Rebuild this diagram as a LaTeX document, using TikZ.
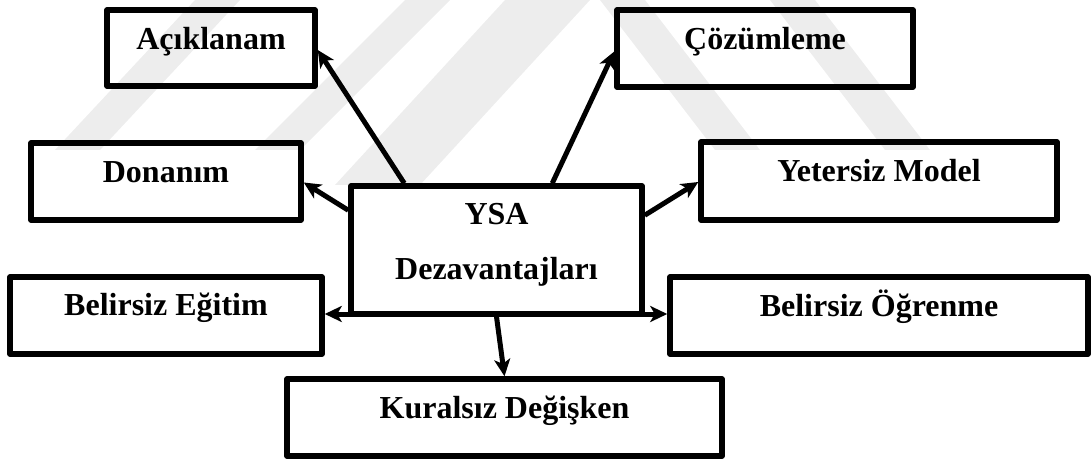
\documentclass[tikz,border=0pt]{standalone}
\usepackage{fontspec}
\setmainfont{Liberation Serif}
\usetikzlibrary{arrows.meta}
\begin{document}
\begin{tikzpicture}[x=1pt,y=-1pt,
  box/.style={draw=black,line width=5.5pt,line join=round,inner sep=0pt},
  lbl/.style={anchor=base,inner sep=0pt,font=\fontsize{32}{36}\selectfont\bfseries},
  tip/.tip={Stealth[length=17pt,width=16pt,inset=4.5pt]},
  conn/.style={line width=5pt,-tip},
  wm/.style={fill=black!7,draw=none}]
\useasboundingbox (0,0) rectangle (1091,462);
% faint background bands
\fill[wm] (195,0) -- (240,0) -- (100,150) -- (55,150) -- cycle;
\fill[wm] (405,0) -- (450,0) -- (300,150) -- (255,150) -- cycle;
\fill[wm] (505,0) -- (590,0) -- (420,185) -- (335,185) -- cycle;
\fill[wm] (600,0) -- (645,0) -- (760,150) -- (715,150) -- cycle;
\fill[wm] (770,0) -- (815,0) -- (930,150) -- (885,150) -- cycle;
% boxes
\node[box,minimum width=208pt,minimum height=76pt] (ac) at (211,48) {};
\node[box,minimum width=296pt,minimum height=77pt] (cz) at (765,48.5) {};
\node[box,minimum width=270pt,minimum height=77pt] (do) at (166,181.5) {};
\node[box,minimum width=356pt,minimum height=78pt] (ym) at (879,181) {};
\node[box,minimum width=291pt,minimum height=128pt] (cb) at (496.5,250) {};
\node[box,minimum width=312pt,minimum height=77pt] (be) at (166,315.5) {};
\node[box,minimum width=418pt,minimum height=77pt] (bo) at (879,315.5) {};
\node[box,minimum width=435pt,minimum height=77pt] (ku) at (504.5,417.5) {};
% labels
\node[lbl] (tac) at ([yshift=-42pt]ac.north) {Açıklanam};
\node[lbl] (tcz) at ([yshift=-42pt]cz.north) {Çözümleme};
\node[lbl] (tdo) at ([yshift=-42pt]do.north) {Donanım};
\node[lbl] (tym) at ([yshift=-42pt]ym.north) {Yetersiz Model};
\node[lbl] (tbe) at ([yshift=-41pt]be.north) {Belirsiz Eğitim};
\node[lbl] (tbo) at ([yshift=-42pt]bo.north) {Belirsiz Öğrenme};
\node[lbl] (tku) at ([yshift=-42pt]ku.north) {Kuralsız Değişken};
\node[lbl] (tcb1) at ([yshift=-41pt]cb.north) {YSA};
\node[lbl] (tcb2) at ([yshift=-96pt]cb.north) {Dezavantajları};
% connectors
\draw[conn] ([xshift=56pt]cb.north west) -- ([yshift=-2pt]ac.east);
\draw[conn] ([xshift=204pt]cb.north west) -- ([yshift=-3pt]cz.west);
\draw[conn] ([yshift=-27pt]cb.north west) -- ([yshift=-1pt]do.east);
\draw[conn] ([yshift=-32pt]cb.north east) -- ([yshift=-1pt]ym.west);
\draw[line width=5pt,tip-tip]
  ([yshift=1.5pt]be.east) -- ([yshift=1.5pt]be.east -| bo.west);
\draw[conn] (cb.south) -- (ku.north);
\end{tikzpicture}
\end{document}
